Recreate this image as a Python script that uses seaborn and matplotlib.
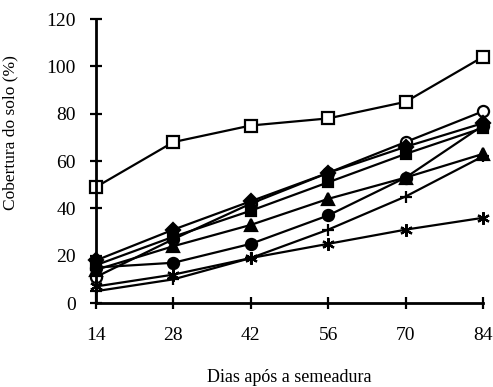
import matplotlib
matplotlib.use("Agg")
import matplotlib.pyplot as plt
import pandas as pd
import seaborn as sns

dias = [14, 28, 42, 56, 70, 84]
quadrado_aberto = [49, 68, 75, 78, 85, 104]
circulo_aberto = [11, 27, 42, 55, 68, 81]
losango = [18, 31, 43, 55, 66, 76]
quadrado_cheio = [16, 28, 39, 51, 63, 74]
triangulo = [14, 24, 33, 44, 53, 63]
circulo_cheio = [15, 17, 25, 37, 53, 75]
cruz = [5, 10, 19, 31, 45, 62]
asterisco = [7, 12, 19, 25, 31, 36]

series = [
    ("quadrado_aberto", quadrado_aberto, "s", "white", 9),
    ("circulo_aberto", circulo_aberto, "o", "white", 8),
    ("losango", losango, "D", "black", 7),
    ("quadrado_cheio", quadrado_cheio, "s", "black", 7),
    ("triangulo", triangulo, "^", "black", 8),
    ("circulo_cheio", circulo_cheio, "o", "black", 8),
    ("cruz", cruz, "+", "black", 9),
    ("asterisco", asterisco, (6, 2, 0), "black", 9),
]

sns.set_theme(style="white")
plt.rcParams["font.family"] = ["Liberation Serif", "DejaVu Serif"]

fig = plt.figure(figsize=(4.93, 3.87), dpi=100)
ax = fig.add_axes([96 / 493, 1 - 303 / 387, (483 - 96) / 493, (303 - 19) / 387])

for name, vals, mk, face, ms in series:
    df = pd.DataFrame({"dia": dias, "cob": vals})
    sns.lineplot(data=df, x="dia", y="cob", ax=ax, color="black", linewidth=1.6,
                 marker=mk, markersize=ms, markerfacecolor=face,
                 markeredgecolor="black", markeredgewidth=1.6, clip_on=False)

ax.set_xlim(14, 84)
ax.set_ylim(0, 120)
ax.set_xticks(dias)
ax.set_yticks(range(0, 121, 20))
ax.tick_params(axis="both", direction="inout", length=9, width=1.6, labelsize=14,
               colors="black", bottom=True, left=True)
ax.tick_params(axis="x", pad=13)
ax.tick_params(axis="y", pad=10)
for s in ["top", "right"]:
    ax.spines[s].set_visible(False)
for s in ["left", "bottom"]:
    ax.spines[s].set_linewidth(2)
    ax.spines[s].set_color("black")

ax.set_xlabel("Dias após a semeadura", fontsize=13, labelpad=18, color="black")
ax.set_ylabel("Cobertura do solo (%)", fontsize=12.5, color="black")
ax.yaxis.set_label_coords(-0.2, 0.6)

fig.savefig("out.png", dpi=100)
